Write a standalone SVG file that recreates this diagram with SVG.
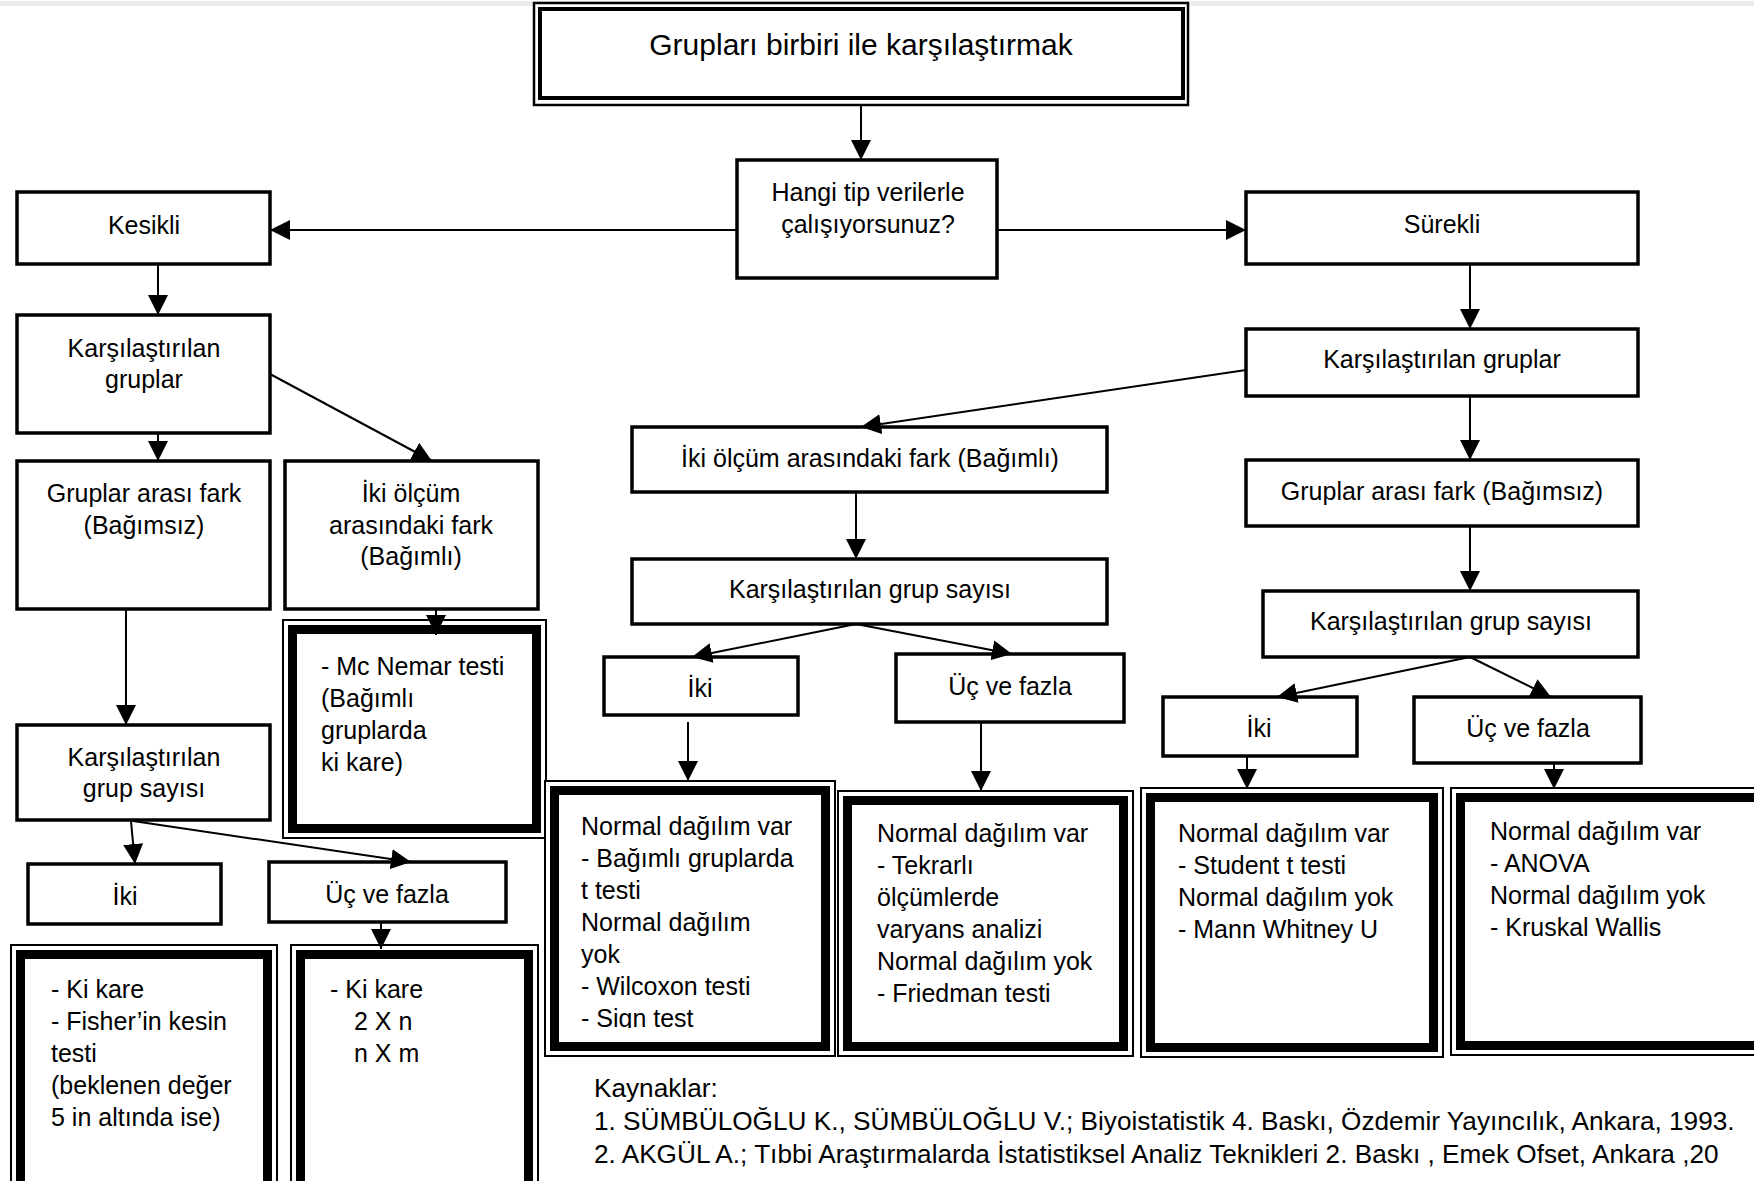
<svg xmlns="http://www.w3.org/2000/svg" width="1754" height="1181" viewBox="0 0 1754 1181">
<defs>
<style>
.box{fill:#fff;stroke:#000;stroke-width:3.5}
.thin{fill:#fff;stroke:#000;stroke-width:2}
.thick{fill:none;stroke:#000;stroke-width:9}
text{font-family:"Liberation Sans",Arial,sans-serif;font-size:25px;fill:#000}
.c{text-anchor:middle}
.title{font-size:30px}
.ref{font-size:26.2px}
#connectors line{stroke:#000;stroke-width:2;marker-end:url(#arr)}
</style>
<marker id="arr" markerUnits="userSpaceOnUse" markerWidth="20" markerHeight="20" refX="20" refY="10" orient="auto">
<path d="M0,0 L20,10 L0,20 Z" fill="#000"/>
</marker>
<clipPath id="clipSign"><rect x="540" y="780" width="300" height="248"/></clipPath>
</defs>
<rect x="0" y="0" width="1754" height="1181" fill="#fff"/>
<rect x="0" y="1" width="1754" height="5" fill="#ececec"/>

<g id="n-top">
<rect x="534" y="3" width="654" height="102" fill="#fff" stroke="#000" stroke-width="2.5"/>
<rect x="540" y="9" width="643" height="89" fill="none" stroke="#000" stroke-width="4"/>
<text class="c title" x="861" y="55">Grupları birbiri ile karşılaştırmak</text>
</g>

<g id="n-hangi">
<rect class="box" x="737" y="160" width="260" height="118"/>
<text class="c" x="868" y="201">Hangi tip verilerle</text>
<text class="c" x="868" y="233">çalışıyorsunuz?</text>
</g>

<g id="n-kesikli">
<rect class="box" x="17" y="192" width="253" height="72"/>
<text class="c" x="144" y="234">Kesikli</text>
</g>

<g id="n-k-gruplar">
<rect class="box" x="17" y="315" width="253" height="118"/>
<text class="c" x="144" y="357">Karşılaştırılan</text>
<text class="c" x="144" y="388">gruplar</text>
</g>

<g id="n-k-bagimsiz">
<rect class="box" x="17" y="461" width="253" height="148"/>
<text class="c" x="144" y="502">Gruplar arası fark</text>
<text class="c" x="144" y="534">(Bağımsız)</text>
</g>

<g id="n-k-bagimli">
<rect class="box" x="285" y="461" width="253" height="148"/>
<text class="c" x="411" y="502">İki ölçüm</text>
<text class="c" x="411" y="534">arasındaki fark</text>
<text class="c" x="411" y="565">(Bağımlı)</text>
</g>

<g id="n-k-sayisi">
<rect class="box" x="17" y="725" width="253" height="95"/>
<text class="c" x="144" y="766">Karşılaştırılan</text>
<text class="c" x="144" y="797">grup sayısı</text>
</g>

<g id="n-k-iki">
<rect class="box" x="28" y="864" width="193" height="60"/>
<text class="c" x="125" y="905">İki</text>
</g>

<g id="n-k-uc">
<rect class="box" x="269" y="862" width="237" height="60"/>
<text class="c" x="387" y="903">Üç ve fazla</text>
</g>

<g id="n-mcnemar">
<rect class="thin" x="283" y="620" width="263" height="218"/>
<rect class="thick" x="292.5" y="629.5" width="244" height="199"/>
<text x="321" y="675">- Mc Nemar testi</text>
<text x="321" y="707">(Bağımlı</text>
<text x="321" y="739">gruplarda</text>
<text x="321" y="771">ki kare)</text>
</g>

<g id="n-kikare1">
<rect class="thin" x="11" y="945" width="266" height="260"/>
<rect class="thick" x="20.5" y="954.5" width="247" height="241"/>
<text x="51" y="998">- Ki kare</text>
<text x="51" y="1030">- Fisher’in kesin</text>
<text x="51" y="1062">testi</text>
<text x="51" y="1094">(beklenen değer</text>
<text x="51" y="1126">5 in altında ise)</text>
</g>

<g id="n-kikare2">
<rect class="thin" x="291" y="945" width="247" height="260"/>
<rect class="thick" x="300.5" y="954.5" width="228" height="241"/>
<text x="330" y="998">- Ki kare</text>
<text x="354" y="1030">2 X n</text>
<text x="354" y="1062">n X m</text>
</g>

<g id="n-m-bagimli">
<rect class="box" x="632" y="427" width="475" height="65"/>
<text class="c" x="870" y="467">İki ölçüm arasındaki fark (Bağımlı)</text>
</g>

<g id="n-m-sayisi">
<rect class="box" x="632" y="559" width="475" height="65"/>
<text class="c" x="870" y="598">Karşılaştırılan grup sayısı</text>
</g>

<g id="n-m-iki">
<rect class="box" x="604" y="657" width="194" height="58"/>
<text class="c" x="700" y="697">İki</text>
</g>

<g id="n-m-uc">
<rect class="box" x="896" y="654" width="228" height="68"/>
<text class="c" x="1010" y="695">Üç ve fazla</text>
</g>

<g id="n-m-test1">
<rect class="thin" x="545" y="781" width="290" height="275"/>
<rect class="thick" x="554.5" y="790.5" width="271" height="256"/>
<g clip-path="url(#clipSign)">
<text x="581" y="835">Normal dağılım var</text>
<text x="581" y="867">- Bağımlı gruplarda</text>
<text x="581" y="899">t testi</text>
<text x="581" y="931">Normal dağılım</text>
<text x="581" y="963">yok</text>
<text x="581" y="995">- Wilcoxon testi</text>
<text x="581" y="1027">- Sign test</text>
</g>
</g>

<g id="n-m-test2">
<rect class="thin" x="838" y="791" width="295" height="265"/>
<rect class="thick" x="847.5" y="800.5" width="276" height="246"/>
<text x="877" y="842">Normal dağılım var</text>
<text x="877" y="874">- Tekrarlı</text>
<text x="877" y="906">ölçümlerde</text>
<text x="877" y="938">varyans analizi</text>
<text x="877" y="970">Normal dağılım yok</text>
<text x="877" y="1002">- Friedman testi</text>
</g>

<g id="n-surekli">
<rect class="box" x="1246" y="192" width="392" height="72"/>
<text class="c" x="1442" y="233">Sürekli</text>
</g>

<g id="n-s-gruplar">
<rect class="box" x="1246" y="329" width="392" height="67"/>
<text class="c" x="1442" y="368">Karşılaştırılan gruplar</text>
</g>

<g id="n-s-bagimsiz">
<rect class="box" x="1246" y="460" width="392" height="66"/>
<text class="c" x="1442" y="500">Gruplar arası fark (Bağımsız)</text>
</g>

<g id="n-s-sayisi">
<rect class="box" x="1263" y="591" width="375" height="66"/>
<text class="c" x="1451" y="630">Karşılaştırılan grup sayısı</text>
</g>

<g id="n-s-iki">
<rect class="box" x="1163" y="697" width="194" height="59"/>
<text class="c" x="1259" y="737">İki</text>
</g>

<g id="n-s-uc">
<rect class="box" x="1414" y="697" width="227" height="66"/>
<text class="c" x="1528" y="737">Üç ve fazla</text>
</g>

<g id="n-s-test1">
<rect class="thin" x="1141" y="788" width="302" height="269"/>
<rect class="thick" x="1150.5" y="797.5" width="283" height="250"/>
<text x="1178" y="842">Normal dağılım var</text>
<text x="1178" y="874">- Student t testi</text>
<text x="1178" y="906">Normal dağılım yok</text>
<text x="1178" y="938">- Mann Whitney U</text>
</g>

<g id="n-s-test2">
<rect class="thin" x="1451" y="788" width="330" height="267"/>
<rect class="thick" x="1460.5" y="797.5" width="311" height="248"/>
<text x="1490" y="840">Normal dağılım var</text>
<text x="1490" y="872">- ANOVA</text>
<text x="1490" y="904">Normal dağılım yok</text>
<text x="1490" y="936">- Kruskal Wallis</text>
</g>

<g id="references">
<text class="ref" x="594" y="1097">Kaynaklar:</text>
<text class="ref" x="594" y="1130">1. SÜMBÜLOĞLU K., SÜMBÜLOĞLU V.; Biyoistatistik 4. Baskı, Özdemir Yayıncılık, Ankara, 1993.</text>
<text class="ref" x="594" y="1163">2. AKGÜL A.; Tıbbi Araştırmalarda İstatistiksel Analiz Teknikleri 2. Baskı , Emek Ofset, Ankara ,20</text>
</g>

<g id="connectors">
<line x1="861" y1="105" x2="861" y2="160"/>
<line x1="737" y1="230" x2="270" y2="230"/>
<line x1="997" y1="230" x2="1246" y2="230"/>
<line x1="158" y1="264" x2="158" y2="315"/>
<line x1="158" y1="433" x2="158" y2="461"/>
<line x1="270" y1="374" x2="432" y2="461"/>
<line x1="126" y1="609" x2="126" y2="725"/>
<line x1="436" y1="609" x2="436" y2="635"/>
<line x1="131" y1="821" x2="135" y2="864"/>
<line x1="133" y1="821" x2="411" y2="862"/>
<line x1="381" y1="922" x2="381" y2="949"/>
<line x1="1246" y1="370" x2="861" y2="427"/>
<line x1="1470" y1="264" x2="1470" y2="329"/>
<line x1="1470" y1="396" x2="1470" y2="460"/>
<line x1="1470" y1="526" x2="1470" y2="591"/>
<line x1="856" y1="492" x2="856" y2="559"/>
<line x1="856" y1="624" x2="692" y2="657"/>
<line x1="856" y1="624" x2="1012" y2="654"/>
<line x1="688" y1="722" x2="688" y2="781"/>
<line x1="981" y1="722" x2="981" y2="791"/>
<line x1="1470" y1="657" x2="1277" y2="697"/>
<line x1="1470" y1="657" x2="1551" y2="697"/>
<line x1="1247" y1="756" x2="1247" y2="789"/>
<line x1="1554" y1="763" x2="1554" y2="789"/>
</g>
</svg>
